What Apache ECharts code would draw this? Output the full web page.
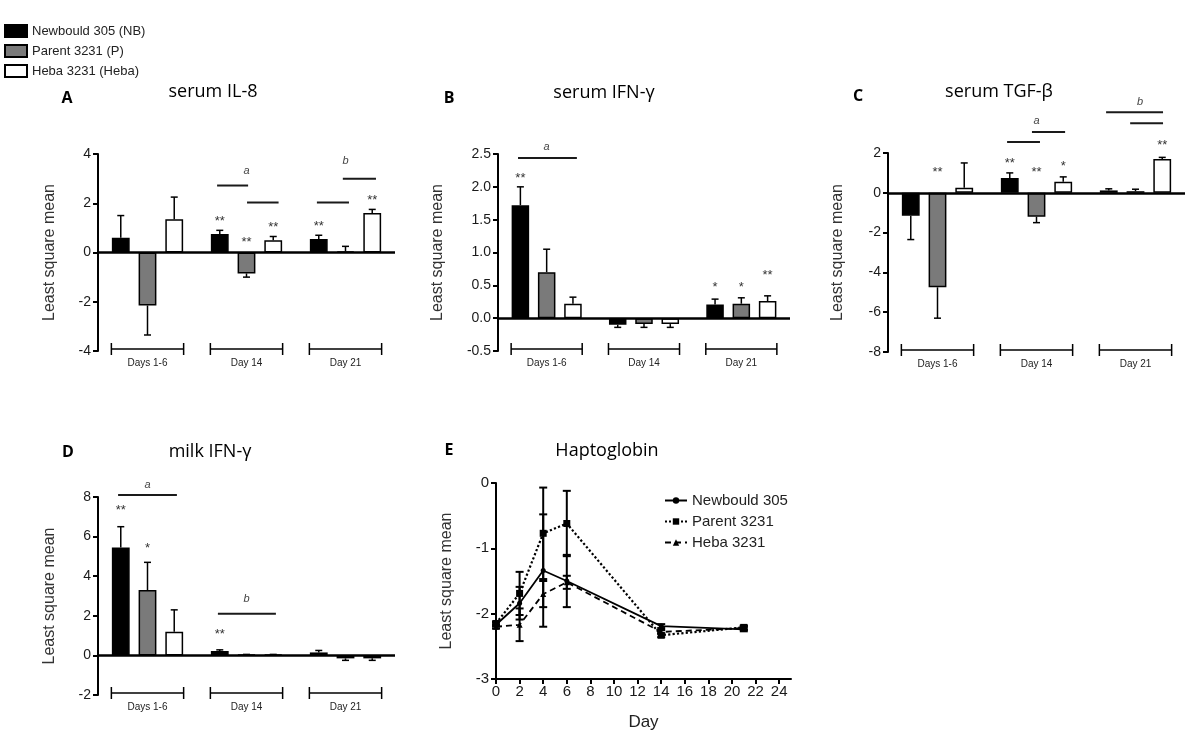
<!DOCTYPE html>
<html><head><meta charset="utf-8">
<script src="https://cdn.jsdelivr.net/npm/echarts@6/dist/echarts.min.js"></script>
<style>html,body{margin:0;padding:0;background:#fff}#chart{width:1200px;height:744px}</style>
</head><body><div id="chart"></div>
<script>
// ---------- DATA ----------
const categories = ['Days 1-6', 'Day 14', 'Day 21'];
const barNames = ['Newbould 305 (NB)', 'Parent 3231 (P)', 'Heba 3231 (Heba)'];
const lineNames = ['Newbould 305', 'Parent 3231', 'Heba 3231'];

// A: serum IL-8
const aNB = [0.6, 0.75, 0.55];      const aNBSE = [0.9, 0.15, 0.15];
const aP = [-2.15, -0.85, 0.05];    const aPSE = [1.2, 0.15, 0.2];
const aHeba = [1.35, 0.5, 1.6];     const aHebaSE = [0.9, 0.15, 0.15];
const aStars = [[1, -1, 1.4, '**'], [1, 0, 0.55, '**'], [1, 1, 1.15, '**'], [2, -1, 1.2, '**'], [2, 1, 2.25, '**']];
const aSig = [[1, -1.1, 0.06, 2.72], [1, 0.02, 1.2, 2.03], [2, -1.07, 0.13, 2.03], [2, -0.1, 1.14, 3.0]];
const aLetters = [[1, 0, 3.3, 'a'], [2, 0, 3.7, 'b']];

// B: serum IFN-γ
const bNB = [1.72, -0.1, 0.21];     const bNBSE = [0.28, 0.04, 0.08];
const bP = [0.7, -0.09, 0.22];      const bPSE = [0.35, 0.05, 0.09];
const bHeba = [0.22, -0.09, 0.26];  const bHebaSE = [0.1, 0.05, 0.08];
const bStars = [[0, -1, 2.18, '**'], [2, -1, 0.52, '*'], [2, 0, 0.52, '*'], [2, 1, 0.69, '**']];
const bSig = [[0, -1.09, 1.15, 2.44]];
const bLetters = [[0, 0, 2.6, 'a']];

// C: serum TGF-β
const cNB = [-1.15, 0.75, 0.12];    const cNBSE = [1.2, 0.25, 0.08];
const cP = [-4.75, -1.2, 0.08];     const cPSE = [1.55, 0.3, 0.1];
const cHeba = [0.25, 0.55, 1.7];    const cHebaSE = [1.25, 0.25, 0.08];
const cStars = [[0, 0, 1.15, '**'], [1, -1, 1.65, '**'], [1, 0, 1.15, '**'], [1, 1, 1.5, '*'], [2, 1, 2.55, '**']];
const cSig = [[1, -1.1, 0.13, 2.55], [1, -0.17, 1.07, 3.05], [2, -1.1, 1.03, 4.05], [2, -0.2, 1.03, 3.5]];
const cLetters = [[1, 0, 3.6, 'a'], [2, 0.17, 4.55, 'b']];

// D: milk IFN-γ
const dNB = [5.45, 0.22, 0.15];     const dNBSE = [1.05, 0.06, 0.1];
const dP = [3.3, 0.03, -0.15];      const dPSE = [1.4, 0.02, 0.1];
const dHeba = [1.2, 0.03, -0.15];   const dHebaSE = [1.1, 0.02, 0.1];
const dStars = [[0, -1, 7.45, '**'], [0, 0, 5.55, '*'], [1, -1, 1.2, '**']];
const dSig = [[0, -1.1, 1.1, 8.1], [1, -1.07, 1.1, 2.1]];
const dLetters = [[0, 0, 8.6, 'a'], [1, 0, 2.85, 'b']];

// E: Haptoglobin
const eDays = [0, 2, 4, 6, 14, 21];
const eNB = [-2.17, -1.84, -1.34, -1.5, -2.19, -2.24];    const eNBSE = [0.03, 0.25, 0.86, 0.4, 0.03, 0.03];
const eP = [-2.15, -1.69, -0.77, -0.62, -2.33, -2.21];    const ePSE = [0.03, 0.33, 0.7, 0.5, 0.03, 0.03];
const eHeba = [-2.2, -2.17, -1.7, -1.52, -2.28, -2.22];   const eHebaSE = [0.03, 0.25, 0.2, 0.1, 0.03, 0.03];
const eXTicks = [0, 2, 4, 6, 8, 10, 12, 14, 16, 18, 20, 22, 24];

// ---------- RENDER HELPERS ----------
const BAR_FRAC = 0.27;
const AX_FONT = 'Liberation Sans';
const TITLE_FONT = 'Open Sans';

function errRender(params, api) {
  const c = api.value(0), s = api.value(1), v = api.value(2), se = api.value(3);
  const band = api.size([1, 0])[0];
  const end = v >= 0 ? v + se : v - se;
  const p0 = api.coord([c, v]), p1 = api.coord([c, end]);
  const x = p0[0] + s * band * BAR_FRAC;
  const st = {stroke: '#000', lineWidth: 1.5};
  return {type: 'group', children: [
    {type: 'line', shape: {x1: x, y1: p0[1], x2: x, y2: p1[1]}, style: st},
    {type: 'line', shape: {x1: x - 3.5, y1: p1[1], x2: x + 3.5, y2: p1[1]}, style: st}
  ]};
}
function bracketRender(params, api) {
  const band = api.size([1, 0])[0];
  const cx = api.coord([api.value(0), 0])[0];
  const y = params.coordSys.y + params.coordSys.height - 2;
  const half = band * 0.365;
  const st = {stroke: '#000', lineWidth: 1.5};
  return {type: 'group', children: [
    {type: 'line', shape: {x1: cx - half, y1: y, x2: cx + half, y2: y}, style: st},
    {type: 'line', shape: {x1: cx - half, y1: y - 6, x2: cx - half, y2: y + 6}, style: st},
    {type: 'line', shape: {x1: cx + half, y1: y - 6, x2: cx + half, y2: y + 6}, style: st}
  ]};
}
function sigRender(params, api) {
  const c = api.value(0), f = api.value(1), t = api.value(2), y = api.value(3);
  const band = api.size([1, 0])[0];
  const p = api.coord([c, y]);
  return {type: 'line', shape: {x1: p[0] + f * band * BAR_FRAC, y1: p[1], x2: p[0] + t * band * BAR_FRAC, y2: p[1]},
    style: {stroke: '#1a1a1a', lineWidth: 2}};
}
function textRenderer(arr, font, color, dy) {
  return function (params, api) {
    const d = arr[params.dataIndex];
    const band = api.size([1, 0])[0];
    const p = api.coord([d[0], d[2]]);
    return {type: 'text', style: {text: d[3], x: p[0] + d[1] * band * BAR_FRAC, y: p[1] + dy,
      align: 'center', verticalAlign: 'middle', textAlign: 'center', textVerticalAlign: 'middle',
      fill: color, font: font}};
  };
}

const series = [];
const xAxes = [], yAxes = [];

function barPanel(idx, vals, ses, stars, sig, letters) {
  const colors = ['#000000', '#7a7a7a', '#ffffff'];
  vals.forEach((v, s) => {
    const ser = {
      type: 'bar', name: barNames[s], xAxisIndex: idx, yAxisIndex: idx, data: v,
      barWidth: '18%', barGap: '50%', silent: true,
      itemStyle: {color: colors[s], borderColor: '#000', borderWidth: 1.5}, z: 2
    };
    if (s === 0) {
      ser.markLine = {silent: true, symbol: 'none', label: {show: false},
        lineStyle: {color: '#000', width: 2.5, type: 'solid'}, data: [{yAxis: 0}], z: 5};
    }
    series.push(ser);
  });
  const errData = [];
  vals.forEach((v, s) => v.forEach((val, c) => errData.push([c, s - 1, val, ses[s][c]])));
  series.push({type: 'custom', xAxisIndex: idx, yAxisIndex: idx, data: errData, encode: {x: 0, y: 2},
    renderItem: errRender, silent: true, z: 3});
  series.push({type: 'custom', xAxisIndex: idx, yAxisIndex: idx, data: categories.map((c, i) => [i, 0]),
    encode: {x: 0, y: 1}, renderItem: bracketRender, silent: true, z: 3});
  series.push({type: 'custom', xAxisIndex: idx, yAxisIndex: idx, data: sig, encode: {x: 0, y: 3},
    renderItem: sigRender, silent: true, z: 3});
  series.push({type: 'custom', xAxisIndex: idx, yAxisIndex: idx, data: stars.map(d => [d[0], d[2]]),
    encode: {x: 0, y: 1}, renderItem: textRenderer(stars, '13px "Liberation Sans"', '#333', 3), silent: true, z: 3});
  series.push({type: 'custom', xAxisIndex: idx, yAxisIndex: idx, data: letters.map(d => [d[0], d[2]]),
    encode: {x: 0, y: 1}, renderItem: textRenderer(letters, 'italic 11px "Liberation Sans"', '#444', 0), silent: true, z: 3});
}

function barXAxis(idx) {
  return {type: 'category', gridIndex: idx, data: categories, axisLine: {show: false}, axisTick: {show: false},
    axisLabel: {fontSize: 10, fontFamily: AX_FONT, color: '#222', margin: 7}};
}
function valYAxis(idx, min, max, interval, nameGap, fmt, fontSize) {
  return {type: 'value', gridIndex: idx, min: min, max: max, interval: interval,
    name: 'Least square mean', nameLocation: 'middle', nameGap: nameGap,
    nameTextStyle: {fontSize: 16, fontFamily: AX_FONT, color: '#333'},
    axisLine: {show: true, onZero: false, lineStyle: {color: '#000', width: 2}},
    axisTick: {show: true, length: 5, lineStyle: {color: '#000', width: 2}},
    splitLine: {show: false},
    axisLabel: {fontSize: fontSize || 14, fontFamily: AX_FONT, color: '#1a1a1a', margin: 7, formatter: fmt}};
}

const grids = [
  {left: 98, top: 154, width: 297, height: 197},
  {left: 498, top: 154, width: 292, height: 197},
  {left: 888, top: 153, width: 297, height: 199},
  {left: 98, top: 497, width: 297, height: 198},
  {left: 496, top: 483, width: 295, height: 196}
];

xAxes.push(barXAxis(0)); yAxes.push(valYAxis(0, -4, 4, 2, 40));
xAxes.push(barXAxis(1)); yAxes.push(valYAxis(1, -0.5, 2.5, 0.5, 52, v => v.toFixed(1)));
xAxes.push(barXAxis(2)); yAxes.push(valYAxis(2, -8, 2, 2, 42));
xAxes.push(barXAxis(3)); yAxes.push(valYAxis(3, -2, 8, 2, 40));

barPanel(0, [aNB, aP, aHeba], [aNBSE, aPSE, aHebaSE], aStars, aSig, aLetters);
barPanel(1, [bNB, bP, bHeba], [bNBSE, bPSE, bHebaSE], bStars, bSig, bLetters);
barPanel(2, [cNB, cP, cHeba], [cNBSE, cPSE, cHebaSE], cStars, cSig, cLetters);
barPanel(3, [dNB, dP, dHeba], [dNBSE, dPSE, dHebaSE], dStars, dSig, dLetters);

// Panel E
xAxes.push({type: 'value', gridIndex: 4, min: 0, max: 25, interval: 1,
  name: 'Day', nameLocation: 'middle', nameGap: 35, nameTextStyle: {fontSize: 17, fontFamily: AX_FONT, color: '#222'},
  axisLine: {show: true, onZero: false, lineStyle: {color: '#000', width: 2}},
  axisTick: {show: true, length: 5, lineStyle: {color: '#000', width: 2}, customValues: eXTicks},
  axisLabel: {fontSize: 15, fontFamily: AX_FONT, color: '#1a1a1a', margin: 5, customValues: eXTicks},
  splitLine: {show: false}});
yAxes.push(valYAxis(4, -3, 0, 1, 41, null, 15));

const eVals = [eNB, eP, eHeba], eSEs = [eNBSE, ePSE, eHebaSE];
const eSym = ['circle', 'rect', 'triangle'], eSymSize = [5, 7, 6];
const eLine = [{type: 'solid', width: 1.8}, {type: 'dotted', width: 2.2}, {type: [6, 4], width: 1.8}];
eVals.forEach((v, s) => {
  series.push({type: 'line', name: lineNames[s], xAxisIndex: 4, yAxisIndex: 4,
    data: v.map((y, i) => [eDays[i], y]), symbol: eSym[s], symbolSize: eSymSize[s], showSymbol: true,
    itemStyle: {color: '#000'}, lineStyle: {color: '#000', width: eLine[s].width, type: eLine[s].type},
    silent: true, z: 3});
  series.push({type: 'custom', xAxisIndex: 4, yAxisIndex: 4,
    data: v.map((y, i) => [eDays[i], y, eSEs[s][i]]), encode: {x: 0, y: 1}, silent: true, z: 2,
    renderItem: function (params, api) {
      const x = api.value(0), y = api.value(1), se = api.value(2);
      const pt = api.coord([x, y + se]), pb = api.coord([x, y - se]);
      const st = {stroke: '#000', lineWidth: 2};
      return {type: 'group', children: [
        {type: 'line', shape: {x1: pt[0], y1: pt[1], x2: pb[0], y2: pb[1]}, style: st},
        {type: 'line', shape: {x1: pt[0] - 4, y1: pt[1], x2: pt[0] + 4, y2: pt[1]}, style: st},
        {type: 'line', shape: {x1: pb[0] - 4, y1: pb[1], x2: pb[0] + 4, y2: pb[1]}, style: st}
      ]};
    }});
});

function t(text, x, y, size, bold) {
  return {text: text, left: x, top: y, textAlign: 'center', padding: 0,
    textStyle: {fontSize: size, fontWeight: bold ? 'bold' : 'normal', fontFamily: TITLE_FONT, color: '#000'}};
}

const option = {
  animation: false,
  backgroundColor: '#fff',
  title: [
    t('A', 67, 90, 16, true), t('serum IL-8', 213, 83, 18, false),
    t('B', 449, 90, 16, true), t('serum IFN-γ', 604, 84, 18, false),
    t('C', 858, 88, 16, true), t('serum TGF-β', 999, 83, 18, false),
    t('D', 68, 444, 16, true), t('milk IFN-γ', 210, 443, 18, false),
    t('E', 449, 442, 16, true), t('Haptoglobin', 607, 442, 18, false)
  ],
  legend: [
    {data: barNames, left: 4, top: 24, padding: 0, orient: 'vertical', icon: 'rect', itemWidth: 22, itemHeight: 12, itemGap: 6,
      selectedMode: false, textStyle: {fontSize: 13, fontFamily: AX_FONT, color: '#222'}},
    {data: lineNames, left: 664, top: 493, padding: 0, orient: 'vertical', itemWidth: 22, itemHeight: 8, itemGap: 6,
      selectedMode: false, textStyle: {fontSize: 15, fontFamily: AX_FONT, color: '#222'}}
  ],
  grid: grids,
  xAxis: xAxes,
  yAxis: yAxes,
  series: series
};

const chart = echarts.init(document.getElementById('chart'), null, {renderer: 'canvas'});
chart.setOption(option);
</script></body></html>
